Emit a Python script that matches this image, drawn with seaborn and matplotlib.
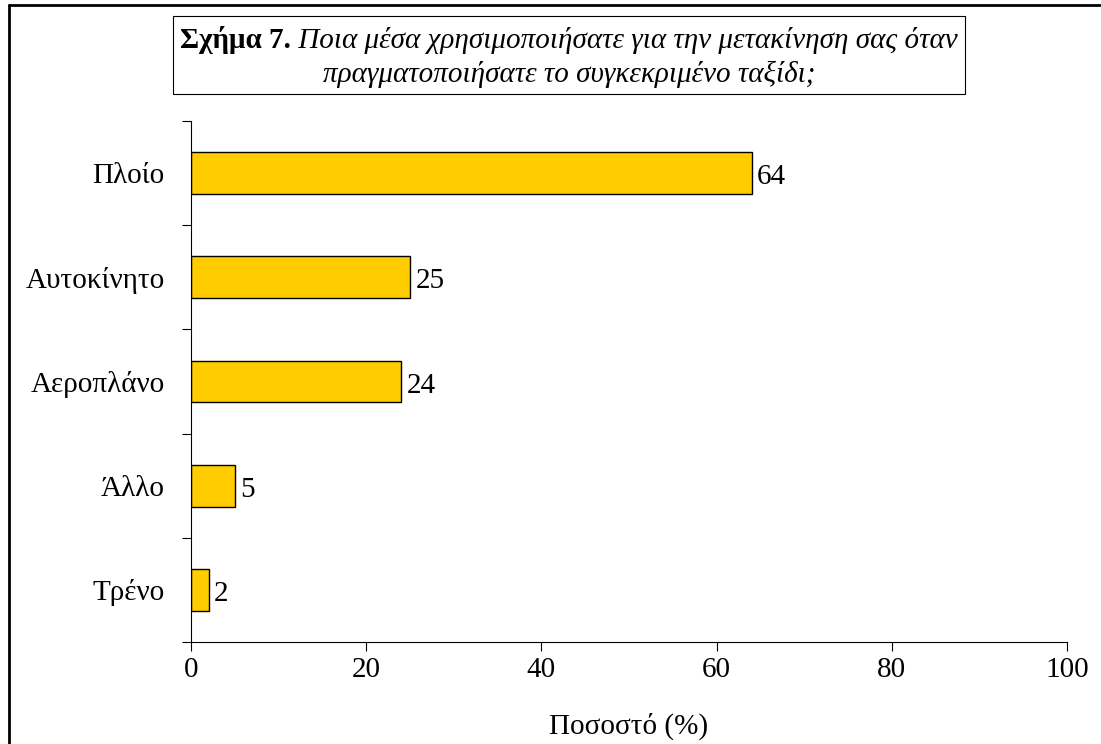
import pandas as pd
import numpy as np
import matplotlib
matplotlib.use('Agg')
import matplotlib.pyplot as plt
import seaborn as sns
from matplotlib.patches import Rectangle
from matplotlib.lines import Line2D

categories = ['Πλοίο', 'Αυτοκίνητο', 'Αεροπλάνο', 'Άλλο', 'Τρένο']
values = [64, 25, 24, 5, 2]
x_ticks = [0, 20, 40, 60, 80, 100]

title_bold = 'Σχήμα 7.'
title_line1 = ' Ποια μέσα χρησιμοποιήσατε για την μετακίνηση σας όταν'
title_line2 = 'πραγματοποιήσατε το συγκεκριμένο ταξίδι;'
x_label = 'Ποσοστό (%)'

sns.set_style('ticks')
plt.rcParams['font.family'] = ['Liberation Serif', 'DejaVu Serif']
plt.rcParams['font.size'] = 21
plt.rcParams['text.color'] = 'black'
plt.rcParams['axes.labelcolor'] = 'black'
plt.rcParams['xtick.color'] = 'black'
plt.rcParams['ytick.color'] = 'black'

FS = 21
df = pd.DataFrame({'mode': categories, 'pct': values})

W, H = 1101, 744
fig = plt.figure(figsize=(W / 100, H / 100), dpi=100)
ax = fig.add_axes([191 / W, 1 - 642 / H, (1067 - 191) / W, (642 - 121) / H])

sns.barplot(data=df, x='pct', y='mode', orient='h', color='#FFCC00',
            saturation=1, width=0.4, edgecolor='black', linewidth=1, ax=ax)

ax.set_xlim(0, 100)
ax.set_ylim(4.5, -0.5)
ax.set_xticks(x_ticks)
ax.set_xticklabels([str(t) for t in x_ticks], fontsize=FS)
ax.set_yticks(np.arange(len(categories)))
ax.set_yticklabels(categories, fontsize=FS)
ax.set_yticks(np.arange(-0.5, len(categories), 1), minor=True)
ax.tick_params(axis='y', which='major', left=True, length=0, pad=19)
ax.tick_params(axis='y', which='minor', left=True, length=6.5, width=0.8, direction='out')
ax.tick_params(axis='x', which='major', bottom=True, length=6.5, width=0.8, direction='out', pad=4)
ax.set_xlabel(x_label, fontsize=FS, labelpad=22)
ax.set_ylabel('')
for s in ['top', 'right']:
    ax.spines[s].set_visible(False)
for s in ['left', 'bottom']:
    ax.spines[s].set_color('black')
    ax.spines[s].set_linewidth(0.8)

for i, v in enumerate(values):
    ax.text(v + 0.6, i + 0.04, str(v), va='center', ha='left', fontsize=FS)

# title box
fig.patches.append(Rectangle((173 / W, 1 - 94 / H), (965 - 173) / W, (94 - 16) / H,
                             transform=fig.transFigure, fill=False,
                             edgecolor='black', linewidth=0.8))
fig.canvas.draw()
r = fig.canvas.get_renderer()
tb = fig.text(0, 1 - 40 / H, title_bold, fontweight='bold', fontsize=FS, va='center', ha='left')
ti = fig.text(0, 1 - 40 / H, title_line1, fontstyle='italic', fontsize=FS, va='center', ha='left')
wb = tb.get_window_extent(r).width
wi = ti.get_window_extent(r).width
x0 = 569 - (wb + wi) / 2
tb.set_x(x0 / W)
ti.set_x((x0 + wb) / W)
fig.text(569 / W, 1 - 74 / H, title_line2, fontstyle='italic', fontsize=FS, va='center', ha='center')

# outer border (left and top)
fig.add_artist(Line2D([9 / W, 9 / W], [0, 1 - 5 / H], transform=fig.transFigure, color='black', linewidth=2))
fig.add_artist(Line2D([9 / W, 1], [1 - 5 / H, 1 - 5 / H], transform=fig.transFigure, color='black', linewidth=2))

fig.savefig('out.png', dpi=100)
